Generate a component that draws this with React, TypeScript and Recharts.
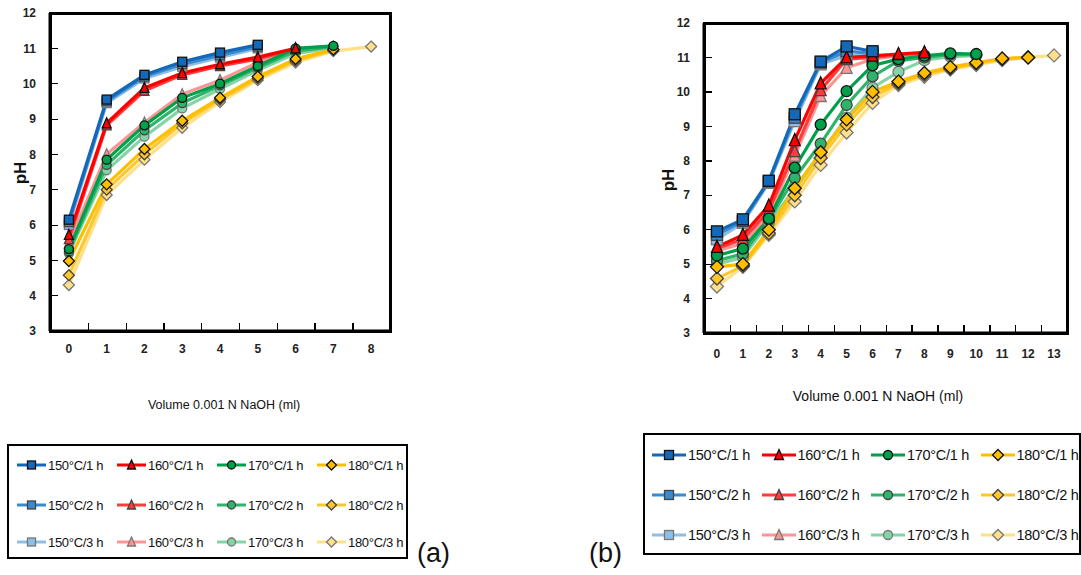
import React from "react";
import { LineChart, Line, XAxis, YAxis } from "recharts";

// x categories (ml of 0.001 N NaOH)
const volumesA = [0, 1, 2, 3, 4, 5, 6, 7, 8];
const volumesB = [0, 1, 2, 3, 4, 5, 6, 7, 8, 9, 10, 11, 12, 13];
const phTicks = [3, 4, 5, 6, 7, 8, 9, 10, 11, 12];

const seriesNames = [
  "150°C/1 h", "160°C/1 h", "170°C/1 h", "180°C/1 h",
  "150°C/2 h", "160°C/2 h", "170°C/2 h", "180°C/2 h",
  "150°C/3 h", "160°C/3 h", "170°C/3 h", "180°C/3 h",
];

// panel (a)
const a150_1h = [6.15, 9.55, 10.25, 10.62, 10.88, 11.1];
const a150_2h = [6.08, 9.5, 10.2, 10.55, 10.8, 11.05];
const a150_3h = [6.0, 9.45, 10.15, 10.48, 10.74, 11.0];
const a160_1h = [5.72, 8.88, 9.88, 10.3, 10.55, 10.75, 11.0];
const a160_2h = [5.6, 8.82, 9.8, 10.25, 10.5, 10.7, 10.98];
const a160_3h = [5.48, 8.0, 8.9, 9.7, 10.1, 10.6, 11.0, 11.05];
const a170_1h = [5.32, 7.85, 8.82, 9.6, 10.0, 10.5, 11.0, 11.07];
const a170_2h = [5.25, 7.7, 8.68, 9.45, 9.95, 10.45, 10.92, 11.05];
const a170_3h = [5.2, 7.55, 8.5, 9.3, 9.85, 10.38, 10.85, 11.02];
const a180_1h = [4.98, 7.15, 8.15, 8.95, 9.6, 10.2, 10.7, 10.97];
const a180_2h = [4.58, 7.0, 8.0, 8.88, 9.55, 10.15, 10.65, 10.95];
const a180_3h = [4.3, 6.85, 7.85, 8.75, 9.48, 10.1, 10.6, 10.92, 11.05];

// panel (b)
const b150_1h = [5.95, 6.3, 7.42, 9.35, 10.88, 11.32, 11.18];
const b150_2h = [5.85, 6.25, 7.4, 9.25, 10.85, 11.18, 11.12];
const b150_3h = [5.72, 6.2, 7.36, 9.15, 10.8, 11.06, 11.08];
const b160_1h = [5.5, 5.85, 6.7, 8.6, 10.25, 11.0, 11.05, 11.1, 11.15];
const b160_2h = [5.45, 5.72, 6.55, 8.28, 10.05, 10.95, 11.0, 11.08, 11.12];
const b160_3h = [5.38, 5.6, 6.42, 8.15, 9.88, 10.7, 10.95, 11.05, 11.1];
const b170_1h = [5.25, 5.45, 6.32, 7.8, 9.05, 10.02, 10.77, 10.95, 11.05, 11.12, 11.1];
const b170_2h = [5.1, 5.3, 6.28, 7.5, 8.5, 9.62, 10.45, 10.9, 11.0, 11.08, 11.08];
const b170_3h = [5.0, 5.2, 6.2, 7.18, 8.22, 9.25, 10.12, 10.58, 10.92, 11.02, 11.05];
const b180_1h = [4.92, 5.0, 6.0, 7.2, 8.25, 9.2, 10.0, 10.3, 10.55, 10.72, 10.85, 10.97, 11.0];
const b180_2h = [4.58, 4.95, 5.9, 7.0, 8.08, 9.05, 9.85, 10.25, 10.5, 10.68, 10.82, 10.95, 11.0];
const b180_3h = [4.35, 4.92, 5.85, 6.82, 7.88, 8.82, 9.68, 10.2, 10.44, 10.65, 10.78, 10.92, 11.0, 11.06];

const seriesA = [a150_1h, a160_1h, a170_1h, a180_1h, a150_2h, a160_2h, a170_2h, a180_2h, a150_3h, a160_3h, a170_3h, a180_3h];
const seriesB = [b150_1h, b160_1h, b170_1h, b180_1h, b150_2h, b160_2h, b170_2h, b180_2h, b150_3h, b160_3h, b170_3h, b180_3h];

type Shape = "square" | "triangle" | "circle" | "diamond";
const SHAPES: Shape[] = ["square", "triangle", "circle", "diamond"];
const COLORS = [
  ["#1468b8", "#ff0000", "#00a04b", "#ffbf00"],
  ["#3a8ad0", "#ff3c3c", "#2fb46a", "#ffc72e"],
  ["#8dbee6", "#ff9494", "#84d4a6", "#ffe08a"],
];
const MARK_STROKE = ["#111", "#444", "#777"];

const FONT = "'Liberation Sans', Arial, sans-serif";

function buildRows(xs: number[], series: number[][]) {
  return xs.map((x, i) => {
    const row: Record<string, number | null> = { x };
    series.forEach((s, k) => {
      row["s" + k] = i < s.length ? s[i] : null;
    });
    return row;
  });
}

function Marker({ shape, cx, cy, size, fill, stroke }: any) {
  const h = size / 2;
  if (shape === "square")
    return <rect x={cx - h} y={cy - h} width={size} height={size} fill={fill} stroke={stroke} strokeWidth={1.3} />;
  if (shape === "circle")
    return <circle cx={cx} cy={cy} r={h} fill={fill} stroke={stroke} strokeWidth={1.3} />;
  if (shape === "triangle")
    return (
      <polygon
        points={`${cx},${cy - h - 1} ${cx + h},${cy + h} ${cx - h},${cy + h}`}
        fill={fill}
        stroke={stroke}
        strokeWidth={1.3}
      />
    );
  return (
    <polygon
      points={`${cx},${cy - h - 1} ${cx + h + 1},${cy} ${cx},${cy + h + 1} ${cx - h - 1},${cy}`}
      fill={fill}
      stroke={stroke}
      strokeWidth={1.3}
    />
  );
}

function makeDot(shape: Shape, fill: string, stroke: string, size: number) {
  return (props: any) => {
    const { cx, cy, index, value } = props;
    if (value == null || cx == null || cy == null || isNaN(cy)) return <g key={"n" + index} />;
    return (
      <g key={"d" + index}>
        <Marker shape={shape} cx={cx} cy={cy} size={size} fill={fill} stroke={stroke} />
      </g>
    );
  };
}

// draw 3h first so the 1h lines sit on top
const drawOrder = [11, 10, 9, 8, 7, 6, 5, 4, 3, 2, 1, 0];

const TOP = 8;
const BOTTOM = 9;
const XH = 30;

function Panel({ xs, series, width, plotH, markSize, xLabelMargin }: any) {
  const rows = buildRows(xs, series);
  const lo = xs[0] - 0.5;
  const hi = xs[xs.length - 1] + 0.5;
  const tickStyle = { fill: "#222", fontSize: 12, fontWeight: 700, fontFamily: FONT };
  return (
    <LineChart width={width} height={TOP + plotH + XH + BOTTOM} data={rows} margin={{ top: TOP, right: 10, bottom: BOTTOM, left: 0 }}>
      <XAxis
        dataKey="x"
        type="number"
        domain={[lo, hi]}
        allowDataOverflow
        ticks={xs}
        interval={0}
        tickLine={false}
        tickMargin={xLabelMargin}
        stroke="#000"
        axisLine={{ stroke: "#000", strokeWidth: 3 }}
        height={XH}
        tick={tickStyle}
      />
      <YAxis
        domain={[3, 12]}
        ticks={phTicks}
        interval={0}
        allowDataOverflow
        width={50}
        tickLine={false}
        tickMargin={8}
        stroke="#000"
        axisLine={{ stroke: "#000", strokeWidth: 3 }}
        tick={tickStyle}
      />
      {drawOrder.map((k) => {
        const hour = Math.floor(k / 4);
        const grp = k % 4;
        const color = COLORS[hour][grp];
        return (
          <Line
            key={k}
            dataKey={"s" + k}
            name={seriesNames[k]}
            stroke={color}
            strokeWidth={3.2}
            connectNulls={false}
            isAnimationActive={false}
            dot={makeDot(SHAPES[grp], color, MARK_STROKE[hour], markSize)}
          />
        );
      })}
    </LineChart>
  );
}

// plot frame with inward tick marks (between categories on x, at each pH unit on y)
function Frame({ left, top, width, height, nCats }: any) {
  const band = width / nCats;
  const unit = height / (phTicks.length - 1);
  return (
    <div
      style={{
        position: "absolute",
        left: left - 1.5,
        top: top - 1.5,
        width: width + 3,
        height: height + 3,
        border: "3px solid #000",
        boxSizing: "border-box",
        pointerEvents: "none",
      }}
    >
      {Array.from({ length: nCats - 1 }, (_, i) => (
        <div key={"x" + i} style={{ position: "absolute", left: band * (i + 1) - 1.5, bottom: 0, width: 1.3, height: 7, background: "#000" }} />
      ))}
      {Array.from({ length: phTicks.length - 2 }, (_, i) => (
        <div key={"y" + i} style={{ position: "absolute", left: 0, top: unit * (i + 1) - 2, width: 6, height: 1.3, background: "#000" }} />
      ))}
    </div>
  );
}

function LegendBox({ left, top, width, height, colW, rowY, padL, lineW, markSize, fontSize }: any) {
  return (
    <div
      style={{
        position: "absolute",
        left,
        top,
        width,
        height,
        border: "2px solid #000",
        boxSizing: "border-box",
        background: "#fff",
      }}
    >
      {seriesNames.map((name, k) => {
        const hour = Math.floor(k / 4);
        const grp = k % 4;
        const color = COLORS[hour][grp];
        return (
          <div
            key={name}
            style={{
              position: "absolute",
              left: padL + grp * colW,
              top: rowY[hour] - 10,
              height: 20,
              display: "flex",
              alignItems: "center",
              whiteSpace: "nowrap",
              fontFamily: FONT,
              fontSize,
              letterSpacing: -0.3,
              color: "#111",
            }}
          >
            <svg width={lineW} height={16} style={{ marginRight: 2 }}>
              <line x1={0} y1={8} x2={lineW} y2={8} stroke={color} strokeWidth={3} />
              <Marker shape={SHAPES[grp]} cx={lineW / 2} cy={8} size={markSize} fill={color} stroke={MARK_STROKE[hour]} />
            </svg>
            {name}
          </div>
        );
      })}
    </div>
  );
}

const axisTitle: React.CSSProperties = {
  position: "absolute",
  fontFamily: FONT,
  color: "#111",
  whiteSpace: "nowrap",
  transform: "translate(-50%, -50%)",
};

const phTitle: React.CSSProperties = {
  position: "absolute",
  fontFamily: FONT,
  fontWeight: 700,
  fontSize: 17,
  color: "#111",
  transform: "translate(-50%, -50%) rotate(-90deg)",
};

export default function App() {
  return (
    <div style={{ position: "absolute", left: 0, top: 0, width: 1081, height: 575, background: "#fff", overflow: "hidden" }}>
      <div style={{ position: "absolute", left: 0, top: 13 - TOP }}>
        <Panel xs={volumesA} series={seriesA} width={400} plotH={318} markSize={9} xLabelMargin={7} />
      </div>
      <Frame left={50} top={13} width={340} height={318} nCats={volumesA.length} />
      <div style={{ position: "absolute", left: 654, top: 23 - TOP }}>
        <Panel xs={volumesB} series={seriesB} width={423} plotH={310} markSize={11} xLabelMargin={10} />
      </div>
      <Frame left={704} top={23} width={363} height={310} nCats={volumesB.length} />

      <div style={{ ...phTitle, left: 21, top: 173 }}>pH</div>
      <div style={{ ...phTitle, left: 669, top: 180 }}>pH</div>
      <div style={{ ...axisTitle, left: 224, top: 405, fontSize: 12.5 }}>Volume 0.001 N NaOH (ml)</div>
      <div style={{ ...axisTitle, left: 878, top: 396, fontSize: 14 }}>Volume 0.001 N NaOH (ml)</div>

      <LegendBox left={7} top={444} width={401} height={115} colW={100} rowY={[19, 59, 96]} padL={8} lineW={29} markSize={8} fontSize={13} />
      <LegendBox left={643} top={433} width={438} height={122} colW={109.5} rowY={[20, 60, 100]} padL={7} lineW={34} markSize={9} fontSize={14.5} />

      <div style={{ position: "absolute", left: 417, top: 538, fontFamily: FONT, fontSize: 27, color: "#111" }}>(a)</div>
      <div style={{ position: "absolute", left: 589, top: 538, fontFamily: FONT, fontSize: 27, color: "#111" }}>(b)</div>
    </div>
  );
}
